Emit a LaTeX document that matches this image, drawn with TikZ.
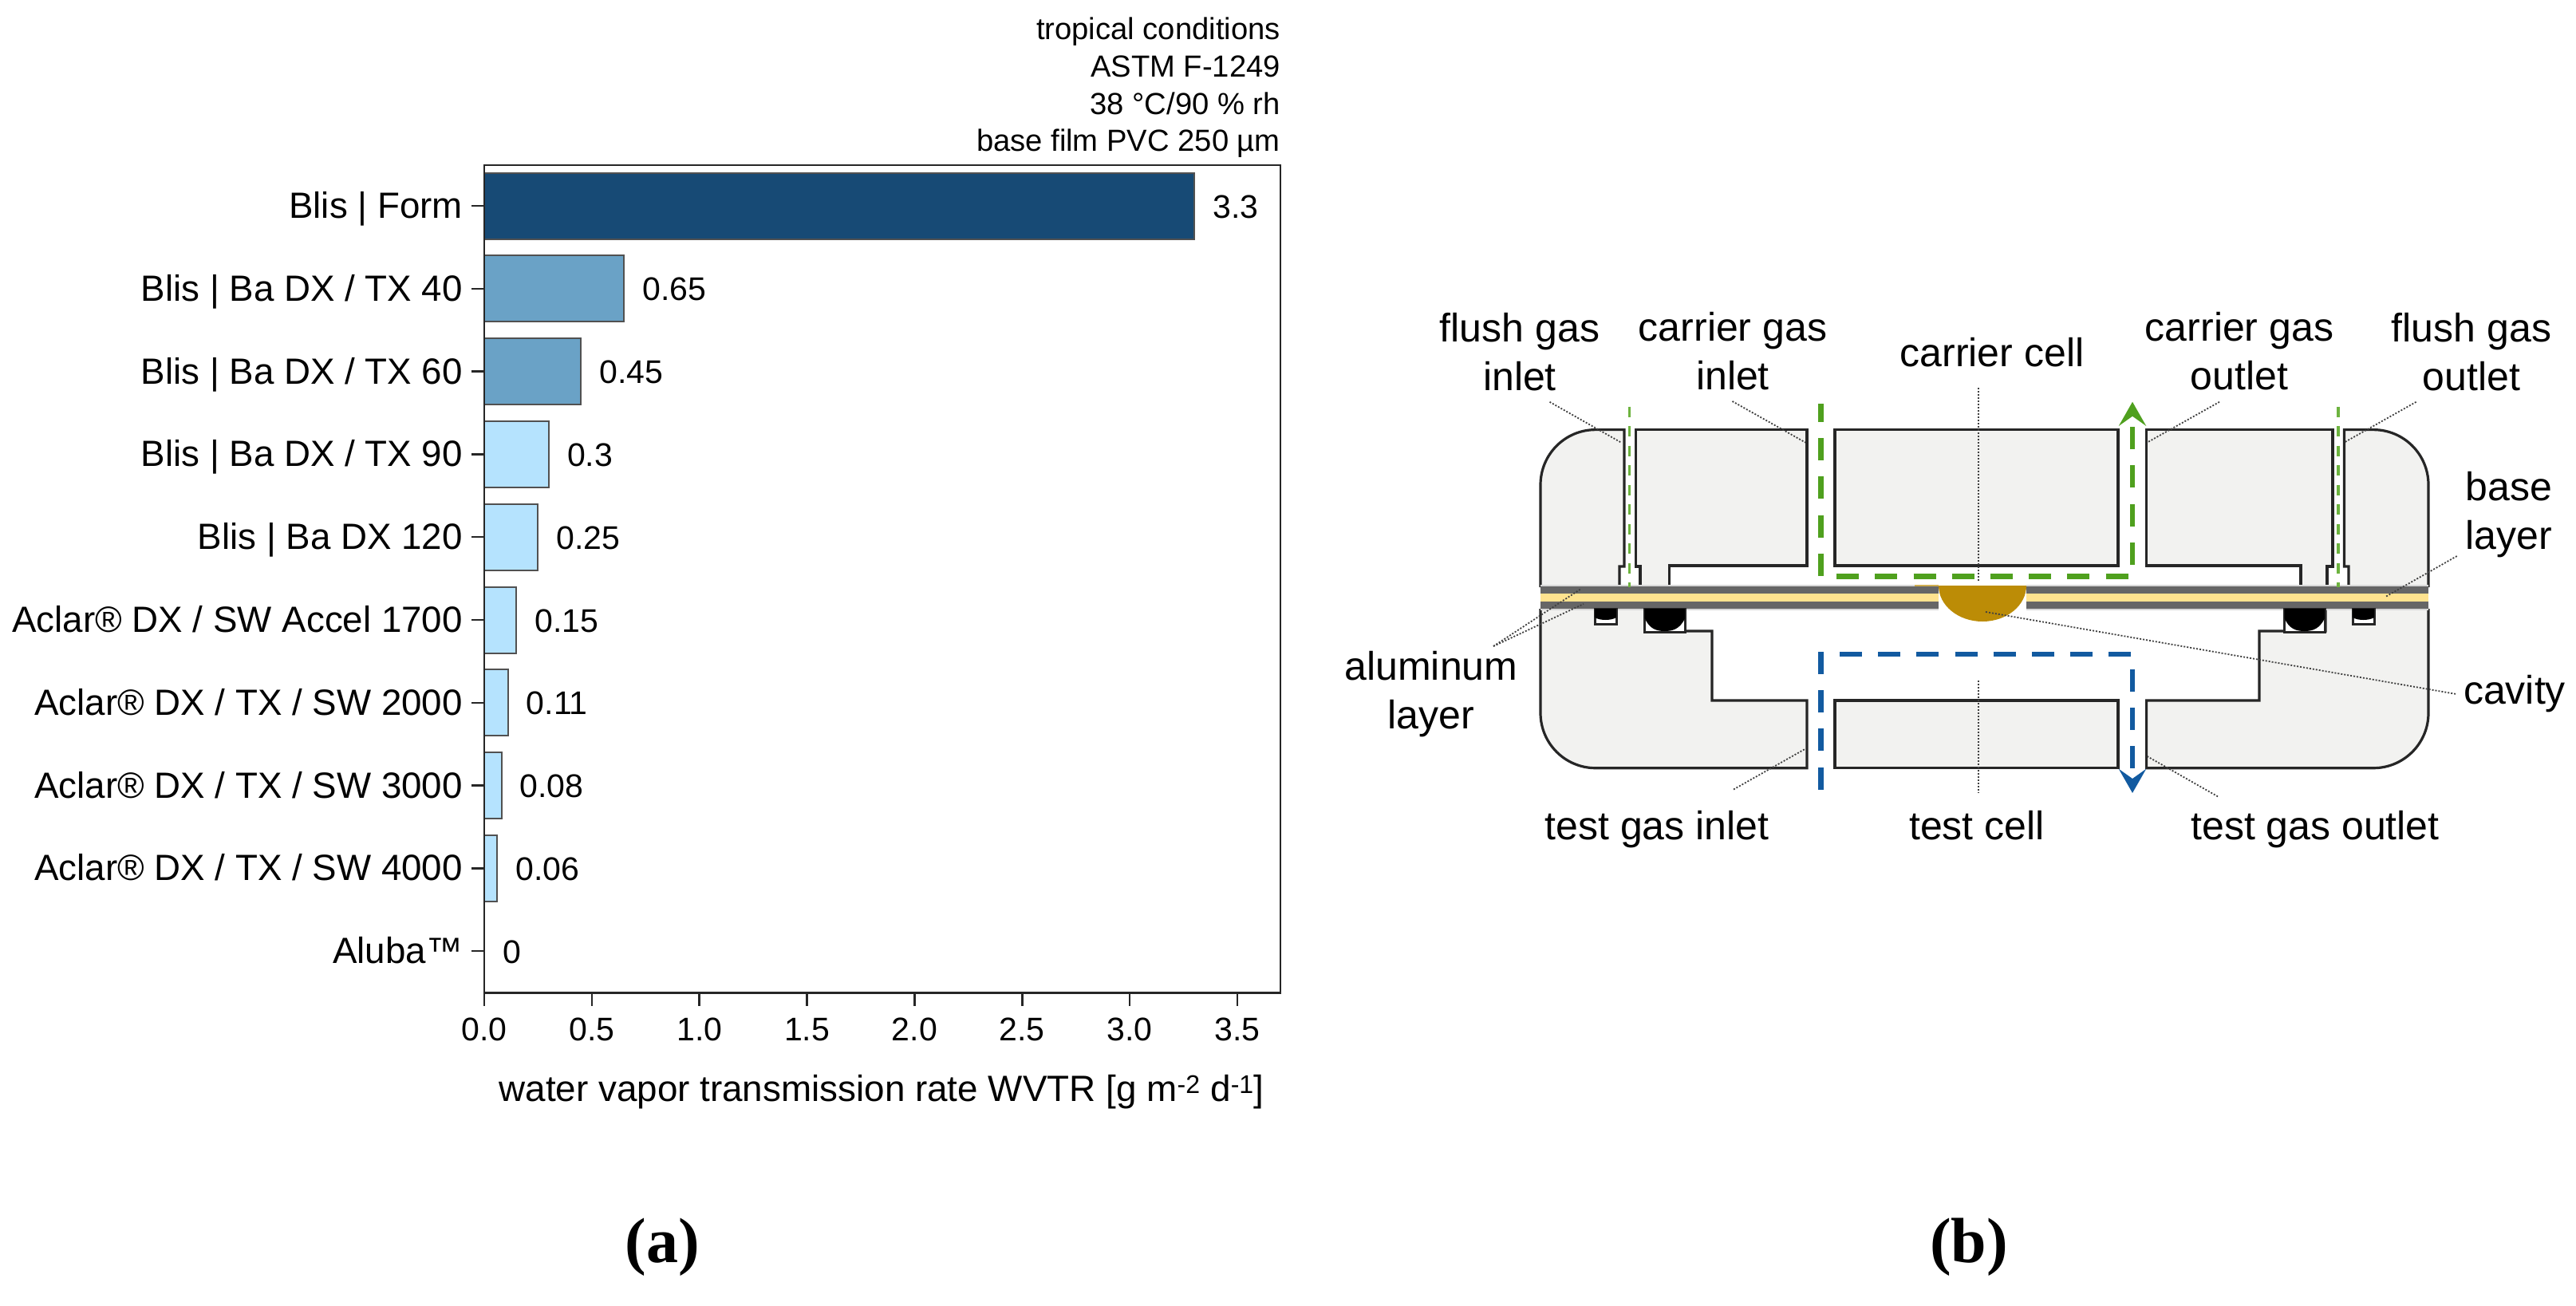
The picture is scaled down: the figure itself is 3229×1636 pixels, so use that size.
\documentclass[tikz,border=0pt]{standalone}
\usepackage{fontspec}
\setmainfont{Liberation Sans}
\newfontfamily\capfont{Liberation Serif}
\usetikzlibrary{positioning,arrows.meta}
\definecolor{barDark}{HTML}{174A75}
\definecolor{barMid}{HTML}{6AA2C6}
\definecolor{barLight}{HTML}{B5E3FE}
\definecolor{bodyGrey}{HTML}{F2F2F0}
\definecolor{filmGrey}{HTML}{666666}
\definecolor{filmHalo}{HTML}{D8D8D8}
\definecolor{filmYellow}{HTML}{FFE38F}
\definecolor{cavityGold}{HTML}{BC8C06}
\definecolor{flowGreen}{HTML}{4FA01E}
\definecolor{flushGreen}{HTML}{6DB33F}
\definecolor{flowBlue}{HTML}{125AA0}
\definecolor{inkDark}{HTML}{262626}
\tikzset{
    every node/.style={inner sep=0pt, text=black},
    axisline/.style={draw=inkDark, line width=2.5pt},
    bar/.style={draw=inkDark!80, line width=2pt},
    ylbl/.style={font=\fontsize{45.7}{50}\selectfont, anchor=base east},
    ticklbl/.style={font=\fontsize{41}{46}\selectfont},
    titlelbl/.style={font=\fontsize{45.8}{50}\selectfont, anchor=base},
    headlbl/.style={font=\fontsize{38.2}{46.8}\selectfont, align=right},
    lbl/.style={font=\fontsize{50}{61}\selectfont, align=center, anchor=base},
    panellbl/.style={font=\capfont\bfseries\fontsize{80}{84}\selectfont, anchor=base},
    bodypart/.style={fill=bodyGrey, draw=inkDark, line width=3.2pt, line join=miter},
    leader/.style={draw=black!75, line width=1.8pt, dash pattern=on 2pt off 2pt},
    greenflow/.style={draw=flowGreen, line width=6.5pt, dash pattern=on 28pt off 20.2pt},
    blueflow/.style={draw=flowBlue, line width=6.5pt, dash pattern=on 28pt off 20.2pt},
    flushflow/.style={draw=flushGreen, line width=3.2pt, dash pattern=on 13pt off 11.5pt},
    flowtip/.style={-{Stealth[length=30pt,width=34pt,inset=12pt]}},
    sealbox/.style={fill=white, draw=inkDark, line width=3pt},
}

\begin{document}
\begin{tikzpicture}[x=1pt,y=-1pt]
\path[use as bounding box] (0,0) rectangle (3229,1636);

% Bar chart
\def\plotx{607}
\def\plotscale{269.7}
\def\barhalf{41.5}
\foreach \i/\name/\val/\col in {0/{Blis | Form}/3.3/barDark, 1/{Blis | Ba DX / TX 40}/0.65/barMid,
  2/{Blis | Ba DX / TX 60}/0.45/barMid, 3/{Blis | Ba DX / TX 90}/0.3/barLight,
  4/{Blis | Ba DX 120}/0.25/barLight, 5/{Aclar® DX / SW Accel 1700}/0.15/barLight,
  6/{Aclar® DX / TX / SW 2000}/0.11/barLight, 7/{Aclar® DX / TX / SW 3000}/0.08/barLight,
  8/{Aclar® DX / TX / SW 4000}/0.06/barLight, 9/{Aluba™}/0/barLight}{
  \pgfmathsetmacro{\yc}{258+103.8*\i}
  \pgfmathsetmacro{\xe}{\plotx+\plotscale*\val}
  \coordinate (ytick-\i) at (\plotx,\yc);
  \coordinate (barend-\i) at (\xe,\yc);
  \draw[bar, fill=\col] (\plotx,\yc-\barhalf) rectangle (\xe,\yc+\barhalf);
  \draw[axisline] (ytick-\i) -- ++(-16,0);
  \node[ylbl] (name-\i) at (\plotx-27,\yc+15.5) {\name};
  \node[ticklbl, anchor=base west] (val-\i) at (\xe+23,\yc+15) {\val};
}
\node[axisline, draw, fill=none, minimum width=998pt, minimum height=1037.5pt] (frame) at (1106,725.75) {};

\foreach \k/\t in {0/0.0,1/0.5,2/1.0,3/1.5,4/2.0,5/2.5,6/3.0,7/3.5}{
  \pgfmathsetmacro{\xt}{\plotx+\plotscale*\t}
  \coordinate (xtick-\k) at (\xt,1244.5);
  \draw[axisline] (xtick-\k) -- ++(0,16);
  \node[ticklbl, anchor=base] (xlbl-\k) at (\xt,1304) {\t};
}
\node[titlelbl] (xtitle) at (1105,1380) {water vapor transmission rate WVTR [g m\textsuperscript{-2} d\textsuperscript{-1}]};
\node[headlbl, anchor=south east] (head) at (1605,198) {tropical conditions\\ASTM F-1249\\38 °C/90 \% rh\\base film PVC 250 µm};

% Test chamber, upper part
\draw[bodypart] (1931,736) -- (1931,607.6) arc[start angle=180,end angle=270,radius=69] -- (2036,538.6)
  -- (2036,710) -- (2030,710) -- (2030,736);
\draw[bodypart] (2056,736) -- (2056,710) -- (2050.5,710) -- (2050.5,538.6) -- (2265,538.6) -- (2265,709)
  -- (2092.5,709) -- (2092.5,736);
\draw[bodypart] (2300,538.6) rectangle (2655,709);
\draw[bodypart] (2884,736) -- (2884,709) -- (2690.6,709) -- (2690.6,538.6) -- (2924,538.6) -- (2924,710)
  -- (2917,710) -- (2917,736);
\draw[bodypart] (2944,736) -- (2944,710) -- (2938.4,710) -- (2938.4,538.6) -- (2975,538.6)
  arc[start angle=270,end angle=360,radius=69] -- (3044,736);

% Test chamber, lower part
\draw[bodypart] (1931,763) -- (1931,893.7) arc[start angle=180,end angle=90,radius=69] -- (2265,962.7)
  -- (2265,878) -- (2146,878) -- (2146,791) -- (2062,791) -- (2062,763);
\draw[bodypart] (2300,878) rectangle (2655,962.7);
\draw[bodypart] (3044,763) -- (3044,893.7) arc[start angle=0,end angle=90,radius=69] -- (2690.6,962.7)
  -- (2690.6,878) -- (2832,878) -- (2832,791) -- (2915,791) -- (2915,763);

% Foil layers
\foreach \xa/\xb in {1931/2430,2540/3044}{
  \fill[filmHalo] (\xa,733) rectangle (\xb,765);
  \fill[filmGrey] (\xa,735) rectangle (\xb,763);
  \fill[filmYellow] (\xa,744) rectangle (\xb,754);
}
\fill[cavityGold!70] (2400,733) rectangle (2430,735);
\fill[cavityGold] (2430,734) arc[start angle=180,end angle=0,x radius=55,y radius=45] -- cycle;

% O-rings
\foreach \x in {2061.7,2863.5}{
  \draw[sealbox] (\x,763) rectangle (\x+50.5,792);
  \fill[black] (\x,763) -- (\x+50.5,763) -- (\x+50.5,775) .. controls (\x+44,788) and (\x+36,791) .. (\x+25,791)
    .. controls (\x+14,791) and (\x+6,788) .. (\x,775) -- cycle;
}
\foreach \x in {1999,2949}{
  \draw[sealbox] (\x,763) rectangle (\x+27,782);
  \fill[black] (\x,763) -- (\x+27,763) -- (\x+27,774) .. controls (\x+20,778) and (\x+7,778) .. (\x,774) -- cycle;
}

% Gas flows
\coordinate (carrierIn) at (2282.7,506);
\coordinate (carrierA) at (2282.7,722.5);
\coordinate (carrierB) at (2673,722.5);
\coordinate (carrierOut) at (2673,503.7);
\coordinate (testIn) at (2282.7,989.5);
\coordinate (testA) at (2282.7,820);
\coordinate (testB) at (2673,820);
\coordinate (testOut) at (2673,994);
\draw[greenflow, flowtip, dash phase=5pt] (carrierIn) -- (carrierA) -- (carrierB) -- (carrierOut);
\draw[blueflow, flowtip] (testIn) -- (testA) -- (testB) -- (testOut);
\foreach \n/\x in {flushIn/2042.5,flushOut/2931}{
  \coordinate (\n-a) at (\x,509.6);
  \coordinate (\n-b) at (\x,736);
  \draw[flushflow] (\n-a) -- (\n-b);
}

% Leader lines
\foreach \n/\xa/\ya/\xb/\yb in {l1/1942.5/503.8/2032.7/555, l2/2171.5/503/2263/554.6, l3/2479.6/486/2479.6/728,
  l4/2173/989.5/2263/938.6, l5/2479.6/853/2479.6/994, l6/1872/810/1981.8/738, l7/1872/810/1985/757,
  l8/2489/767/3079/870, l9/2782/503.8/2691.5/554.6, l10/3028.6/503.8/2938.4/554.6,
  l11/3079.7/697/2989.5/748.4, l12/2780/998.4/2691.5/948}{
  \coordinate (\n-a) at (\xa,\ya);
  \coordinate (\n-b) at (\xb,\yb);
  \draw[leader] (\n-a) -- (\n-b);
}

% Labels
\node[lbl] (flushInLbl) at (1905,489) {flush gas\\inlet};
\node[lbl] (carrierInLbl) at (2172,488) {carrier gas\\inlet};
\node[lbl] (carrierCellLbl) at (2497,459) {carrier cell};
\node[lbl] (carrierOutLbl) at (2807,488) {carrier gas\\outlet};
\node[lbl] (flushOutLbl) at (3098,489) {flush gas\\outlet};
\node[lbl] (baseLbl) at (3145,688) {base\\layer};
\node[lbl] (cavityLbl) at (3152,882) {cavity};
\node[lbl] (aluLbl) at (1794,913) {aluminum\\layer};
\node[lbl] (testInLbl) at (2077,1052) {test gas inlet};
\node[lbl] (testCellLbl) at (2478,1052) {test cell};
\node[lbl] (testOutLbl) at (2902,1052) {test gas outlet};

\node[panellbl] (panelA) at (830,1582) {(a)};
\node[panellbl] (panelB) at (2468,1582) {(b)};
\end{tikzpicture}
\end{document}
